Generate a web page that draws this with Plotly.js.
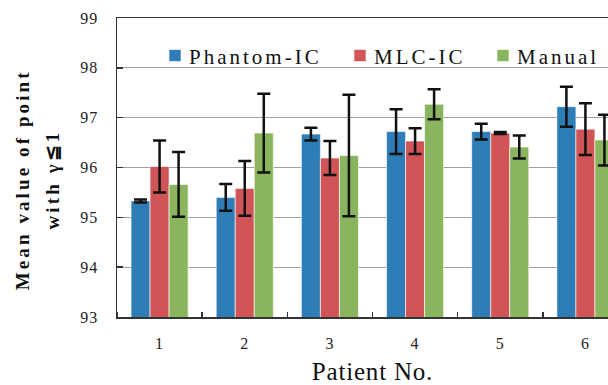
<!DOCTYPE html>
<html>
<head>
<meta charset="utf-8">
<script src="https://cdn.plot.ly/plotly-3.0.1.min.js"></script>
<style>
html,body{margin:0;padding:0;overflow:hidden;background:#fff;width:608px;height:385px;}
.legendtext, .infolayer g[class^="legend"] text{letter-spacing:3px;transform:translateX(-6px);font-family:"Liberation Serif",serif !important;}
.infolayer .scrollbox{clip-path:none !important;}
.annotation-text{letter-spacing:3.1px;}
.xtitle{letter-spacing:0.8px;}
.xtick text,.ytick text{letter-spacing:1px;}
</style>
</head>
<body>
<div id="chart" style="width:628px;height:385px;"></div>
<script>
const patients = [1, 2, 3, 4, 5, 6];
const tickLabels = ["1", "2", "3", "4", "5", "6"];
const seriesNames = ["Phantom-IC", "MLC-IC", "Manual"];
const phantomIC = [95.33, 95.40, 96.67, 96.72, 96.72, 97.22];
const phantomICErr = [0.03, 0.27, 0.13, 0.45, 0.16, 0.40];
const mlcIC = [96.02, 95.58, 96.19, 96.53, 96.69, 96.77];
const mlcICErr = [0.52, 0.55, 0.34, 0.26, 0.02, 0.52];
const manual = [95.66, 96.69, 96.24, 97.27, 96.41, 96.55];
const manualErr = [0.65, 0.79, 1.22, 0.30, 0.23, 0.51];
const colors = ["#2e7db7", "#d15457", "#8ab55e"];

const vals = [phantomIC, mlcIC, manual];
const errs = [phantomICErr, mlcICErr, manualErr];
const legendIds = ["legend", "legend2", "legend3"];

const traces = seriesNames.map((name, i) => ({
  type: "bar",
  name: name,
  legend: legendIds[i],
  x: patients,
  y: vals[i],
  marker: {color: colors[i], line: {color: "rgba(255,255,255,0.6)", width: 1}},
  error_y: {type: "data", array: errs[i], visible: true, color: "#111", thickness: 2.5, width: 6.5}
}));

const serif = "Liberation Serif";
const legendBase = (x) => ({
  orientation: "h", x: x, y: 0.942, xanchor: "left", yanchor: "top",
  font: {family: serif, size: 21, color: "#111"},
  bgcolor: "rgba(255,255,255,0)", itemwidth: 30
});

const layout = {
  width: 628, height: 385,
  font: {family: serif, size: 21, color: "#111"},
  margin: {l: 117, r: 0, t: 18, b: 68},
  paper_bgcolor: "#fff", plot_bgcolor: "#fff",
  barmode: "group",
  bargap: 0.33, bargroupgap: 0,
  showlegend: true,
  legend: legendBase(0.0744),
  legend2: legendBase(0.4364),
  legend3: legendBase(0.7162),
  xaxis: {
    range: [0.5, 6.5],
    tickmode: "array", tickvals: patients, ticktext: tickLabels,
    ticks: "", showgrid: false,
    showline: true, linecolor: "#333", linewidth: 1.5, mirror: true,
    tickfont: {family: serif, size: 16, color: "#222"},
    ticklabelstandoff: 11,
    minor: {ticks: "inside", tick0: 0.5, dtick: 1, ticklen: 5, tickcolor: "#333", tickwidth: 1.5, showgrid: false},
    title: {text: "Patient No.", font: {family: serif, size: 25, color: "#111"}, standoff: 12},
    zeroline: false
  },
  yaxis: {
    range: [93, 99], dtick: 1, tick0: 93,
    showgrid: true, gridcolor: "#a0a0a0", gridwidth: 1.2,
    showline: true, linecolor: "#333", linewidth: 1.5,
    ticks: "inside", ticklen: 6, tickcolor: "#333", tickwidth: 1.5,
    tickfont: {family: serif, size: 16, color: "#222"},
    ticklabelstandoff: 14,
    zeroline: false
  },
  annotations: [
    {text: "Mean value of point", textangle: -90, xref: "paper", yref: "paper",
     x: -0.1843, y: 0.46, xanchor: "center", yanchor: "middle", showarrow: false,
     font: {family: serif, size: 19, color: "#111", weight: "bold"}},
    {text: "with γ≦1", textangle: -90, xref: "paper", yref: "paper",
     x: -0.1272, y: 0.46, xanchor: "center", yanchor: "middle", showarrow: false,
     font: {family: serif, size: 19, color: "#111", weight: "bold"}}
  ]
};

Plotly.newPlot("chart", traces, layout, {displayModeBar: false, staticPlot: true});
</script>
</body>
</html>
